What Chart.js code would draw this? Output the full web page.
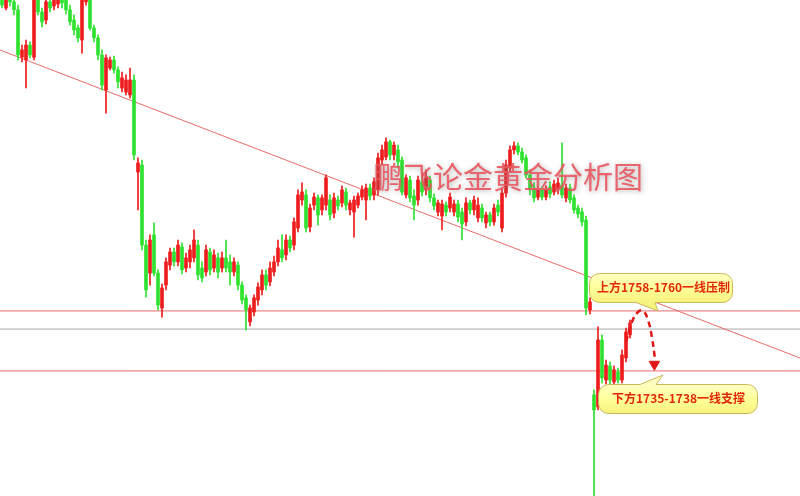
<!DOCTYPE html>
<html>
<head>
<meta charset="utf-8">
<script src="https://cdn.jsdelivr.net/npm/chart.js@4.4.1/dist/chart.umd.min.js"></script>
<style>
html,body{margin:0;padding:0;background:#fff;}
#wrap{width:800px;height:496px;}
</style>
</head>
<body>
<div id="wrap"><canvas id="c" width="800" height="496"></canvas></div>
<script>
// ---- data (gold price candles) ----
const opens = [1879.8,1873,1877.9,1875.3,1872.3,1854.6,1853.5,1859.1,1854.6,1876,
1871.5,1868.5,1875.3,1873.8,1874.5,1877.5,1876,1872.3,1868.5,1865.5,
1861,1875.3,1877.5,1865.5,1861.8,1855.4,1842.3,1850.5,1853.5,1849.8,
1843,1841.5,1840.4,1846,1811.5,1814.1,1784.1,1773.6,1787.9,1773.6,
1760.5,1769.1,1776.6,1781.5,1777.8,1783.4,1775.5,1777.8,1779.3,1784.1,
1775.5,1774,1781.5,1775.5,1779.3,1775.5,1779.3,1777.8,1774,1776.6,
1769.1,1764.3,1755.3,1759,1763.5,1767.3,1772.9,1770.3,1774,1777.8,
1782.3,1780.4,1786,1784.1,1790.5,1801,1802.9,1790.9,1799.1,1801.8,
1797.3,1799.1,1801,1796.1,1801,1799.9,1804,1797.3,1796.5,1799.1,
1802.1,1801,1805.5,1802.9,1804.8,1816,1817.1,1822.8,1817.9,1819.8,
1816,1802.9,1808.5,1802.5,1801,1807.8,1804.8,1808.5,1801.8,1796.5,
1795,1799.1,1798,1796.5,1799.5,1796.5,1792.8,1799.9,1797.3,1794.3,
1798,1792.4,1795.4,1792.8,1799.1,1790.5,1803.6,1813,1819.8,1821.3,
1819,1816.8,1810.4,1805.5,1802.1,1804.8,1802.1,1805.9,1804,1804.8,
1806.6,1801.8,1805.5,1801.8,1798,1796.5,1793.5,1759.8,1727.9,1723.4,
1748.5,1733.5,1738.8,1732.8,1736.5,1733.5,1741.8,1750.4];
const highs = [1883.5,1881.6,1881.6,1877.9,1874.1,1859.1,1861,1860.3,1879.8,1879,
1873,1877.9,1877.9,1879.8,1880.5,1879.8,1877.9,1874.1,1870.4,1866.6,
1879,1880.5,1879,1866.6,1862.9,1857.3,1855.4,1854.6,1855,1850.9,
1849,1847.9,1850.5,1847.9,1816.8,1816,1786,1787.9,1792.4,1774.8,
1769.5,1779.3,1783,1783,1786,1784.9,1781.1,1784.1,1789.8,1786,
1777.8,1784.1,1783,1782.3,1781.1,1781.5,1786,1780.4,1779.3,1777.8,
1770.3,1765.4,1761.6,1765.4,1769.9,1774.8,1774.8,1777.8,1780,1786,
1787.9,1787.9,1787.5,1794.3,1804.8,1807.4,1804.8,1799.5,1803.6,1802.9,
1802.9,1810.4,1802.9,1803.6,1802.5,1806.3,1805.5,1801,1802.5,1803.6,
1806.3,1807,1807,1809.3,1818.6,1821.6,1824.3,1823.5,1822.8,1821.6,
1817.1,1810.4,1810,1804.8,1810,1810.4,1812.3,1810,1803.3,1801,
1801,1800.3,1803.6,1801,1801,1798,1801.8,1801,1802.5,1801.8,
1799.5,1796.5,1796.5,1799.5,1801,1805.5,1816,1821.3,1822.8,1822.4,
1820.5,1817.9,1812.3,1807.4,1806.3,1805.9,1806.3,1807.8,1808.5,1809.3,
1822.4,1807,1807,1802.9,1799.1,1798,1795,1764.3,1729.8,1753.4,
1750.4,1741,1740.3,1738.8,1738,1744.8,1753,1756];
const lows = [1873,1872.3,1873.8,1870.4,1853.5,1852.8,1843,1854.3,1853.5,1870.4,
1865.9,1867,1871.5,1872.3,1873,1873,1870.8,1866.6,1862.9,1860.3,
1856.1,1874.1,1864.8,1860.3,1853.5,1842.3,1833.6,1849.8,1848.6,1843,
1841.5,1840.4,1839.3,1816,1797.3,1782.3,1764.6,1769.1,1772.5,1759.8,
1757.1,1767.3,1774.8,1776.3,1776.3,1773.3,1774,1775.5,1777.8,1771,
1770.3,1772.5,1772.9,1774,1771.8,1774,1774,1769.1,1772.5,1767.3,
1762,1752.3,1753.8,1757.5,1761.6,1765.4,1767.3,1768.8,1772.5,1776.3,
1777.8,1778.5,1781.5,1782.3,1789,1799.1,1789,1789,1797.3,1791.6,
1795.4,1797.3,1793.5,1794.3,1797.3,1798.4,1797.3,1795.4,1787.1,1798,
1801,1793.5,1801,1801,1802.9,1814.1,1816,1816,1816,1813,
1802.9,1801.8,1800.3,1793.5,1799.1,1802.5,1802.9,1800.3,1797.3,1795,
1789.8,1795,1796.5,1795,1792.8,1786,1791.3,1795.8,1795.4,1792.8,
1792.8,1790.5,1791.3,1791.6,1795,1789,1802.1,1811.5,1818.3,1817.9,
1814.9,1809.3,1802.9,1800.3,1801,1801,1801,1801.8,1802.9,1803.3,
1801.8,1800.3,1799.9,1796.1,1794.3,1791.3,1757.9,1758.3,1681,1722.3,
1732.4,1732,1732,1731.6,1732.4,1732.4,1740.3,1749.3];
const closes = [1874.1,1877.9,1875.3,1872.3,1855.4,1857.3,1859.1,1855.4,1876,1871.5,
1867.8,1875.3,1873,1876.8,1877.5,1874.9,1872.3,1867.8,1864.8,1861.8,
1876.8,1878.3,1865.5,1861.8,1855.4,1844.1,1854.3,1853.5,1849.8,1845.3,
1846.8,1846,1846,1817.9,1814.9,1784.1,1767.3,1786,1773.6,1761.6,
1768,1777.8,1781.5,1777.8,1784.1,1774.8,1779.3,1782.3,1786,1772.9,
1771.8,1782.3,1774.8,1780.4,1774,1779.3,1775.5,1774,1777.8,1769.1,
1763.5,1759.8,1760.5,1764.3,1768.4,1772.9,1769.1,1775.5,1777.8,1783,
1779.3,1786,1783,1792.8,1802.9,1804,1790.5,1798,1802.1,1795.4,
1801.8,1809.3,1795.4,1801.8,1798.8,1804.8,1799.1,1799.9,1801,1802.5,
1804.8,1805.5,1802.5,1807.8,1816.8,1819.8,1822.8,1817.9,1821.6,1815.3,
1804,1809.3,1801.8,1799.1,1808.5,1804,1809.3,1801.8,1798.8,1799.9,
1799.5,1796.5,1802.1,1799.5,1794.6,1792,1799.9,1797.3,1801,1799.1,
1794.3,1795.4,1792.8,1798,1796.5,1803.6,1814.1,1819.8,1821.3,1819,
1816,1810.4,1804.8,1801.8,1804.8,1802.1,1804.8,1803.3,1807,1807.4,
1802.9,1805.5,1801,1797.3,1795.8,1792.8,1760.5,1762.8,1722.3,1748.5,
1734.3,1739.1,1733.5,1737.3,1733.5,1742.9,1751.5,1754.9];

// key levels and trend line
const resistanceLevel = 1759.4;   // 上方1758-1760
const middleLevel = 1752.6;
const supportLevel = 1736.9;      // 下方1735-1738
const trendX = [-0.5, 199.5];
const trendY = [1857.25, 1741.75];
// projected path (dashed arrow)
const pathX = [156, 157.5, 159, 160.25, 161.5, 162.5, 163.2];
const pathY = [1747.8, 1755.3, 1759.0, 1759.4, 1756.0, 1749.3, 1742.0];
const arrowX = [163.1];
const arrowY = [1739.4];

const titleText = '鹏飞论金黄金分析图';
const noteUp = '上方1758-1760一线压制';
const noteDown = '下方1735-1738一线支撑';

// ---- build ----
const UP = '#ee1c1c', DOWN = '#2fe22f';
const idx = opens.map((_, i) => i);
const colors = idx.map(i => closes[i] >= opens[i] ? UP : DOWN);
const wickData = idx.map(i => ({x: i, y: [lows[i], highs[i]]}));
const bodyData = idx.map(i => ({x: i, y: [opens[i], closes[i]]}));
const hline = v => [{x: -0.5, y: v}, {x: 199.5, y: v}];

function roundPath(ctx, b, tail, side) {
  const {x, y, w, h, r} = b;
  ctx.beginPath();
  ctx.moveTo(x + r, y);
  if (side === 'top') { tail.forEach(p => ctx.lineTo(p[0], p[1])); }
  ctx.lineTo(x + w - r, y);
  ctx.arcTo(x + w, y, x + w, y + r, r);
  ctx.lineTo(x + w, y + h - r);
  ctx.arcTo(x + w, y + h, x + w - r, y + h, r);
  if (side === 'bottom') { tail.forEach(p => ctx.lineTo(p[0], p[1])); }
  ctx.lineTo(x + r, y + h);
  ctx.arcTo(x, y + h, x, y + h - r, r);
  ctx.lineTo(x, y + r);
  ctx.arcTo(x, y, x + r, y, r);
  ctx.closePath();
}
function callout(ctx, b, tail, side, text, tx, ty) {
  ctx.save();
  roundPath(ctx, b, tail, side);
  const g = ctx.createLinearGradient(0, b.y, 0, b.y + b.h);
  g.addColorStop(0, '#ffffc2');
  g.addColorStop(0.5, '#ffff99');
  g.addColorStop(1, '#f6f27e');
  ctx.fillStyle = g;
  ctx.fill();
  ctx.strokeStyle = '#c9b85a';
  ctx.lineWidth = 1;
  ctx.stroke();
  ctx.font = 'bold 12px "Noto Sans CJK SC"';
  ctx.fillStyle = '#e2280c';
  ctx.textBaseline = 'middle';
  ctx.textAlign = 'left';
  ctx.fillText(text, tx, ty);
  ctx.restore();
}

const overlay = {
  id: 'overlay',
  afterDatasetsDraw(chart) {
    const ctx = chart.ctx;
    ctx.save();
    ctx.font = '30px "Noto Sans CJK SC"';
    ctx.textBaseline = 'middle';
    ctx.textAlign = 'left';
    ctx.shadowColor = 'rgba(110,110,110,0.6)';
    ctx.shadowBlur = 5;
    ctx.shadowOffsetX = 1;
    ctx.shadowOffsetY = 1;
    ctx.fillStyle = 'rgba(234,86,96,0.9)';
    ctx.fillText(titleText, 373, 177);
    ctx.restore();
    callout(ctx, {x: 589.5, y: 273.5, w: 143, h: 29, r: 10},
      [[655, 302.5], [658, 311], [636, 302.5]], 'bottom', noteUp, 597, 287);
    callout(ctx, {x: 598.5, y: 384.5, w: 159, h: 29, r: 10},
      [[640, 384.5], [663, 375], [656, 384.5]], 'top', noteDown, 612, 398);
  }
};

new Chart(document.getElementById('c'), {
  type: 'bar',
  data: {
    datasets: [
      {label: 'body', data: bodyData, backgroundColor: colors, barThickness: 3, borderWidth: 0, grouped: false, order: 1},
      {label: 'wick', data: wickData, backgroundColor: colors, barThickness: 1, borderWidth: 0, grouped: false, order: 2},
      {type: 'line', label: 'path', data: pathX.map((x, i) => ({x, y: pathY[i]})), borderColor: '#e01818', borderWidth: 2.5, borderDash: [6, 4], tension: 0.45, pointRadius: 0, fill: false, order: 0},
      {type: 'line', label: 'arrow', data: arrowX.map((x, i) => ({x, y: arrowY[i]})), showLine: false, pointStyle: 'triangle', rotation: 180, pointRadius: 6, pointBackgroundColor: '#e01818', pointBorderColor: '#e01818', order: 0},
      {type: 'line', label: 'trend', data: trendX.map((x, i) => ({x, y: trendY[i]})), borderColor: '#e86a6a', borderWidth: 1, pointRadius: 0, fill: false, order: 3},
      {type: 'line', label: 'res', data: hline(resistanceLevel), borderColor: '#e86a6a', borderWidth: 1, pointRadius: 0, order: 3},
      {type: 'line', label: 'mid', data: hline(middleLevel), borderColor: '#a8a8a8', borderWidth: 1, pointRadius: 0, order: 3},
      {type: 'line', label: 'sup', data: hline(supportLevel), borderColor: '#e86a6a', borderWidth: 1, pointRadius: 0, order: 3}
    ]
  },
  options: {
    responsive: false,
    animation: false,
    events: [],
    layout: {padding: 0, autoPadding: false},
    plugins: {legend: {display: false}, tooltip: {enabled: false}, title: {display: false}},
    scales: {
      x: {type: 'linear', min: -0.5, max: 199.5, offset: false, display: false},
      y: {type: 'linear', min: 1690, max: 1876, display: false}
    }
  },
  plugins: [overlay]
});
</script>
</body>
</html>
